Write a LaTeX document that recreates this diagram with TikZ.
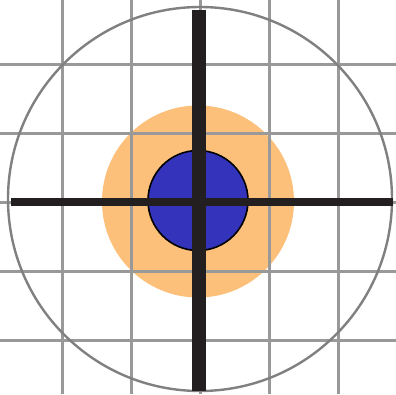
\documentclass[tikz,border=0pt]{standalone}
\begin{document}
\begin{tikzpicture}[x=1pt,y=-1pt,
  gridline/.style={draw=gray!80, line width=3pt},
  ring/.style={draw=gray, line width=2.4pt},
  bar/.style={draw=barblack},
]
\definecolor{barblack}{HTML}{231F20}
\definecolor{halo}{HTML}{FDC07A}
\definecolor{core}{HTML}{3333BB}
\useasboundingbox (0,0) rectangle (396,394);
\fill[white] (0,0) rectangle (396,394);
% halo
\fill[halo] (198,201.5) circle[radius=96];
% grid
\foreach \gx in {62,131,200,269,338} \draw[gridline] (\gx,0) -- (\gx,394);
\foreach \gy in {64,133,202,271,340} \draw[gridline] (0,\gy) -- (396,\gy);
% outer ring
\draw[ring] (200,199) circle[radius=192];
% core
\node[circle, fill=core, draw=black, line width=1.6pt, minimum size=100pt, inner sep=0pt] (core) at (198,200.5) {};
% cross bars
\coordinate (vt) at (199,10);
\coordinate (vb) at (199,390.5);
\coordinate (hl) at (11,202);
\coordinate (hr) at (393,202);
\draw[bar, line width=8pt] (hl) -- (hr);
\draw[bar, line width=13.4pt] (vt) -- (vb);
\end{tikzpicture}
\end{document}
